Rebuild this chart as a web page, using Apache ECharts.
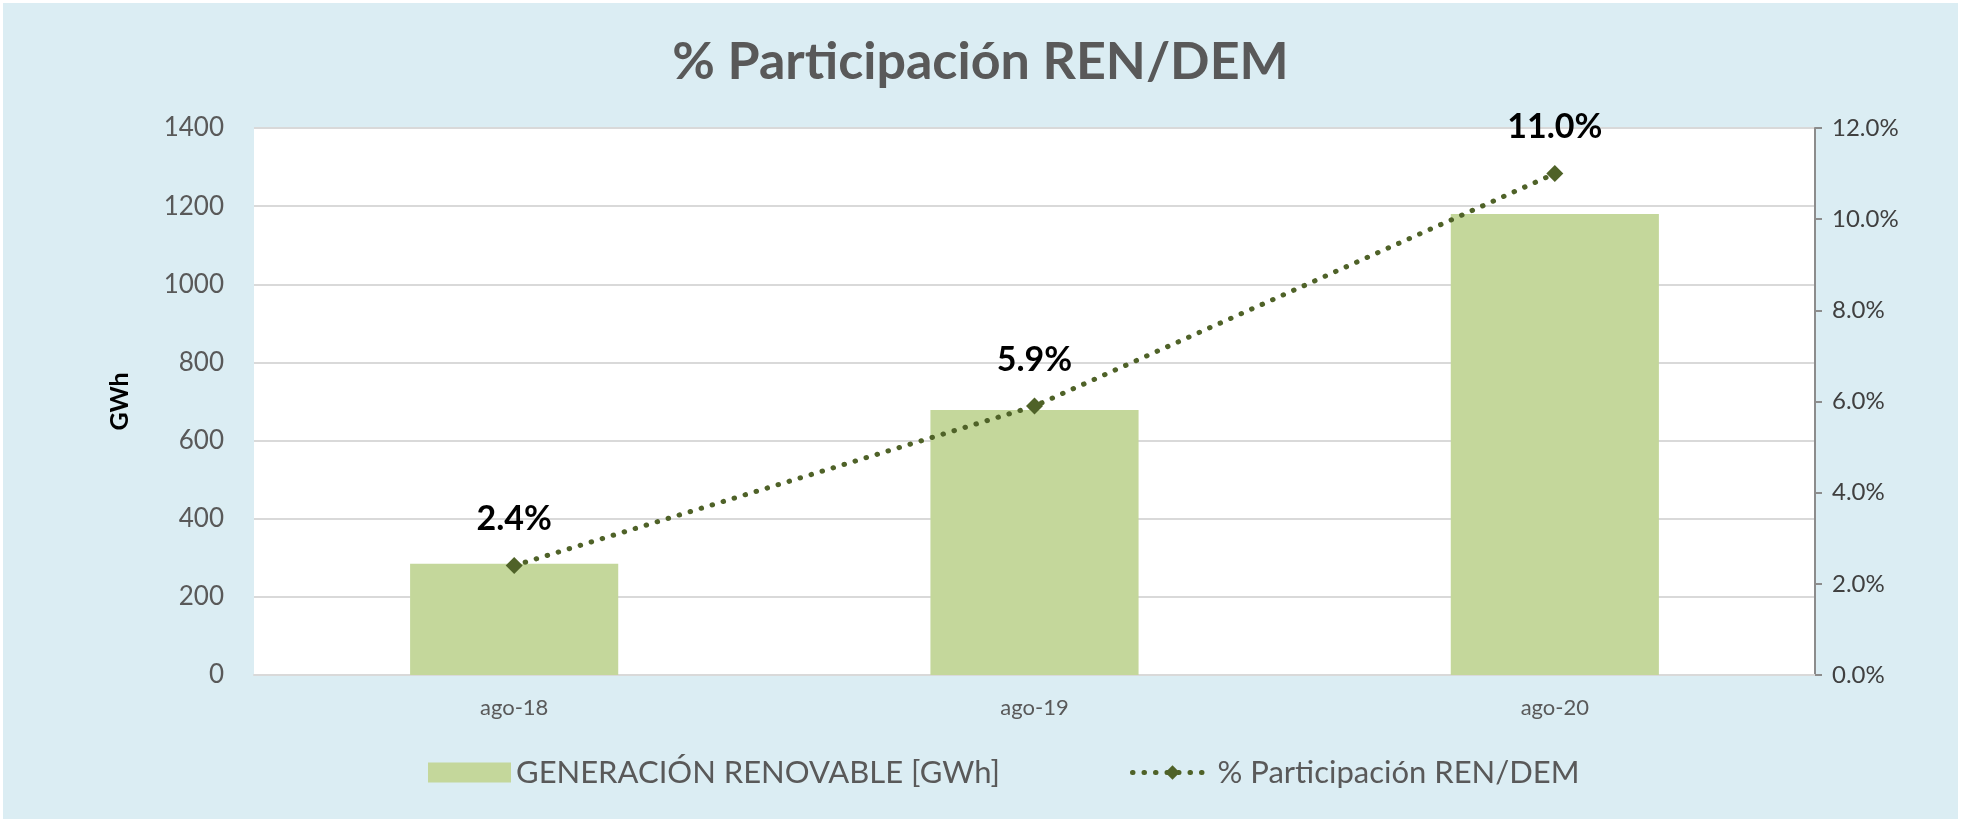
<!DOCTYPE html>
<html>
<head>
<meta charset="utf-8">
<script src="https://cdn.jsdelivr.net/npm/echarts@6/dist/echarts.min.js"></script>
<style>
  html, body { margin: 0; padding: 0; background: #ffffff; }
  #chart { position: absolute; left: 3px; top: 3px; width: 1955px; height: 816px; }
</style>
</head>
<body>
<div id="chart"></div>
<script>
// categorías y valores
const categories = ['ago-18', 'ago-19', 'ago-20'];
const generacion = [285, 678, 1180];        // GWh
const participacion = [0.024, 0.059, 0.110]; // REN/DEM
const leftTicks = { min: 0, max: 1400, interval: 200 };
const rightTicks = { min: 0, max: 0.12, interval: 0.02 };

const chart = echarts.init(document.getElementById('chart'));
const font = 'Lato, "Open Sans", sans-serif';
const pct = v => (v * 100).toFixed(1) + '%';

const option = {
  backgroundColor: '#dbedf3',
  textStyle: { fontFamily: font },
  title: {
    text: '% Participación REN/DEM',
    left: 'center',
    top: 28,
    textStyle: { fontFamily: font, fontSize: 52, fontWeight: 'bold', color: '#595959' }
  },
  grid: {
    left: 251, right: 143, top: 125, bottom: 144,
    show: true, backgroundColor: '#ffffff', borderWidth: 0
  },
  // dos leyendas para poder dar distinto ancho al icono
  legend: [
    {
      left: 420,
      bottom: 26,
      itemWidth: 83,
      itemHeight: 20,
      itemGap: 0,
      textStyle: { fontFamily: font, fontSize: 31, color: '#595959' },
      data: [{ name: 'GENERACIÓN RENOVABLE [GWh]', icon: 'rect' }]
    },
    {
      left: 1122,
      bottom: 26,
      itemWidth: 80,
      itemHeight: 18,
      textStyle: { fontFamily: font, fontSize: 31, color: '#595959' },
      lineStyle: { width: 5, type: [0.5, 11], cap: 'round' },
      data: ['% Participación REN/DEM']
    }
  ],
  xAxis: {
    type: 'category',
    data: categories,
    axisLine: { show: true, lineStyle: { color: '#d9d9d9', width: 2 } },
    axisTick: { show: false },
    axisLabel: { color: '#595959', fontSize: 22, margin: 22 }
  },
  yAxis: [
    {
      type: 'value',
      min: leftTicks.min, max: leftTicks.max, interval: leftTicks.interval,
      name: 'GWh',
      nameLocation: 'middle',
      nameRotate: 90,
      nameGap: 122,
      nameTextStyle: { fontFamily: font, fontSize: 25, fontWeight: 'bold', color: '#000000' },
      axisLine: { show: false },
      axisTick: { show: false },
      axisLabel: { color: '#595959', fontSize: 26, margin: 30, formatter: v => String(v) },
      splitLine: { lineStyle: { color: '#d9d9d9', width: 2 } }
    },
    {
      type: 'value',
      position: 'right',
      min: rightTicks.min, max: rightTicks.max, interval: rightTicks.interval,
      axisLine: { show: true, lineStyle: { color: '#8c8c8c', width: 2 } },
      axisTick: { show: true, length: 7, lineStyle: { color: '#8c8c8c', width: 2 } },
      axisLabel: { color: '#404040', fontSize: 24, margin: 17, formatter: pct },
      splitLine: { show: false }
    }
  ],
  series: [
    {
      name: 'GENERACIÓN RENOVABLE [GWh]',
      type: 'bar',
      data: generacion,
      barWidth: '40%',
      itemStyle: { color: '#c4d79b' }
    },
    {
      name: '% Participación REN/DEM',
      type: 'line',
      yAxisIndex: 1,
      data: participacion,
      symbol: 'diamond',
      symbolSize: 17,
      itemStyle: { color: '#4f6228' },
      lineStyle: { color: '#4f6228', width: 5, type: [0.5, 11], cap: 'round' },
      label: {
        show: true,
        position: 'top',
        distance: 21,
        fontFamily: font,
        fontSize: 34,
        fontWeight: 'bold',
        color: '#000000',
        formatter: p => pct(p.value)
      }
    }
  ]
};

chart.setOption(option);
</script>
</body>
</html>
